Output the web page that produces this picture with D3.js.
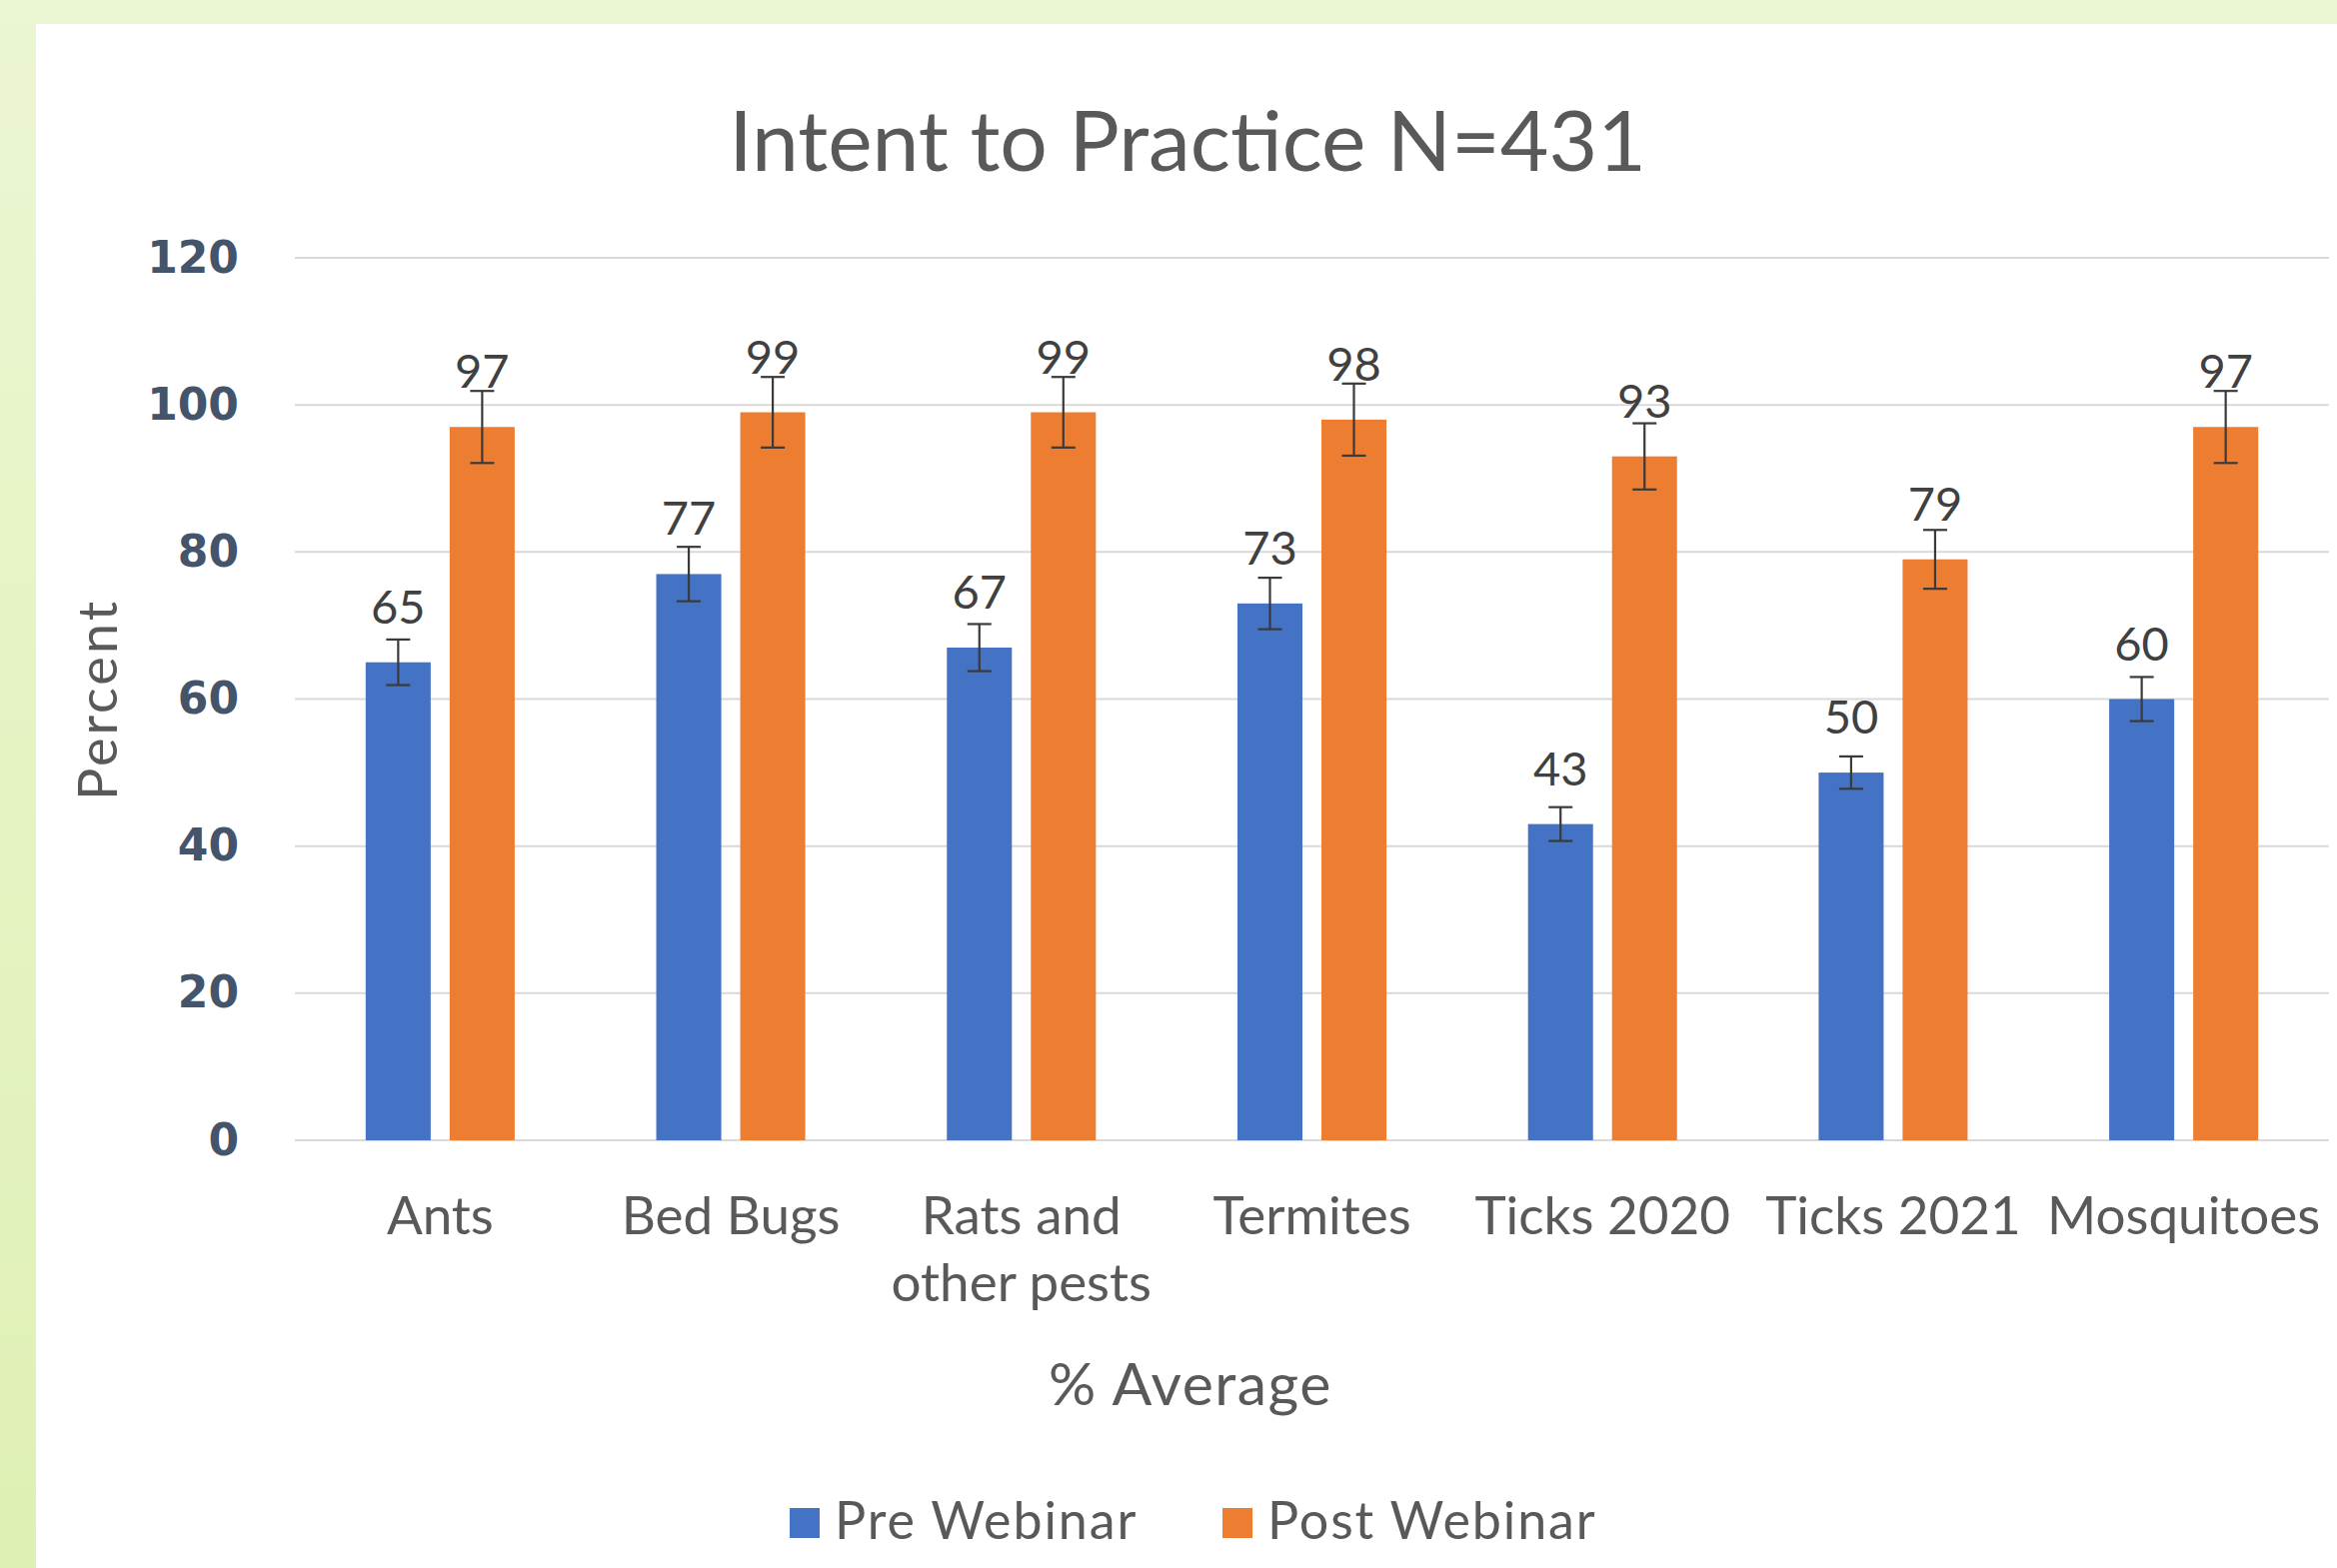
<!DOCTYPE html>
<html>
<head>
<meta charset="utf-8">
<script src="https://cdn.jsdelivr.net/npm/d3@7"></script>
<style>
  html, body { margin: 0; padding: 0; background: #fff; }
  svg { display: block; }
</style>
</head>
<body>
<svg id="chart"></svg>
<script>
const categories = ['Ants', 'Bed Bugs', 'Rats and other pests', 'Termites', 'Ticks 2020', 'Ticks 2021', 'Mosquitoes'];
const seriesNames = ['Pre Webinar', 'Post Webinar'];
const preWebinar = [65, 77, 67, 73, 43, 50, 60];
const postWebinar = [97, 99, 99, 98, 93, 79, 97];
const preError = [3.1, 3.7, 3.2, 3.5, 2.3, 2.2, 3.0];
const postError = [4.9, 4.8, 4.8, 4.9, 4.5, 4.0, 4.9];
const yTicks = [0, 20, 40, 60, 80, 100, 120];

const W = 2338, H = 1569;
const colors = { 'Pre Webinar': '#4472C4', 'Post Webinar': '#ED7D31' };
const textFont = 'Lato, "Open Sans", sans-serif';
const textColor = '#595959';

const svg = d3.select('#chart').attr('width', W).attr('height', H);

// green frame behind the white chart panel
const defs = svg.append('defs');
const grad = defs.append('linearGradient').attr('id', 'frame').attr('x1', 0).attr('y1', 0).attr('x2', 0).attr('y2', 1);
grad.append('stop').attr('offset', '0%').attr('stop-color', '#ebf6d2');
grad.append('stop').attr('offset', '100%').attr('stop-color', '#dff0b4');
svg.append('rect').attr('width', W).attr('height', H).attr('fill', 'url(#frame)');
svg.append('rect').attr('x', 36).attr('y', 24).attr('width', W - 36).attr('height', H - 24).attr('fill', '#fff');

const plot = { left: 295, right: 2330, top: 258, bottom: 1141 };

const x0 = d3.scaleBand().domain(categories).range([plot.left, plot.right]).padding(0);
const x1 = d3.scaleBand().domain(seriesNames).range([0, x0.bandwidth()]).paddingInner(0.226).paddingOuter(0.843);
const y = d3.scaleLinear().domain([0, 120]).range([plot.bottom, plot.top]);

// gridlines
svg.append('g').selectAll('line')
  .data(yTicks)
  .enter()
  .append('line')
  .attr('x1', plot.left)
  .attr('x2', plot.right)
  .attr('y1', d => y(d))
  .attr('y2', d => y(d))
  .attr('stroke', '#d9d9d9')
  .attr('stroke-width', 2);

// y axis labels
const yAxis = svg.append('g')
  .attr('transform', `translate(${plot.left},0)`)
  .call(d3.axisLeft(y).tickValues(yTicks).tickSize(0).tickPadding(56));
yAxis.select('.domain').remove();
yAxis.selectAll('text')
  .style('font-family', '"DejaVu Sans", Verdana, sans-serif')
  .style('font-weight', 'bold')
  .style('font-size', '44px')
  .attr('fill', '#44546A');

// bars
const rows = categories.map((c, i) => ({
  category: c,
  values: [
    { series: 'Pre Webinar', value: preWebinar[i], err: preError[i] },
    { series: 'Post Webinar', value: postWebinar[i], err: postError[i] }
  ]
}));

const groups = svg.append('g').selectAll('g.group')
  .data(rows)
  .enter()
  .append('g')
  .attr('class', 'group')
  .attr('transform', d => `translate(${x0(d.category)},0)`);

groups.selectAll('rect')
  .data(d => d.values)
  .enter()
  .append('rect')
  .attr('x', d => x1(d.series))
  .attr('y', d => y(d.value))
  .attr('width', x1.bandwidth())
  .attr('height', d => y(0) - y(d.value))
  .attr('fill', d => colors[d.series]);

// error bars
const capHalf = 12;
const errG = groups.selectAll('g.err')
  .data(d => d.values)
  .enter()
  .append('g')
  .attr('class', 'err')
  .attr('stroke', '#3a3a3a')
  .attr('stroke-width', 2.2);
errG.append('line')
  .attr('x1', d => x1(d.series) + x1.bandwidth() / 2)
  .attr('x2', d => x1(d.series) + x1.bandwidth() / 2)
  .attr('y1', d => y(d.value + d.err))
  .attr('y2', d => y(d.value - d.err));
errG.selectAll('line.cap')
  .data(d => [d.value + d.err, d.value - d.err].map(v => ({ v, cx: x1(d.series) + x1.bandwidth() / 2 })))
  .enter()
  .append('line')
  .attr('class', 'cap')
  .attr('x1', d => d.cx - capHalf)
  .attr('x2', d => d.cx + capHalf)
  .attr('y1', d => y(d.v))
  .attr('y2', d => y(d.v));

// data labels
groups.selectAll('text.val')
  .data(d => d.values)
  .enter()
  .append('text')
  .attr('class', 'val')
  .attr('x', d => x1(d.series) + x1.bandwidth() / 2)
  .attr('y', d => y(d.value) - 39)
  .attr('text-anchor', 'middle')
  .style('font-family', textFont)
  .style('font-size', '47px')
  .attr('fill', '#404040')
  .text(d => d.value);

// category labels
const catLabels = svg.append('g').selectAll('text')
  .data(categories)
  .enter()
  .append('text')
  .attr('x', d => x0(d) + x0.bandwidth() / 2)
  .attr('y', 1235)
  .attr('text-anchor', 'middle')
  .style('font-family', textFont)
  .style('font-size', '53px')
  .attr('fill', textColor);
catLabels.each(function(d) {
  const t = d3.select(this);
  const lines = d === 'Rats and other pests' ? ['Rats and', 'other pests'] : [d];
  lines.forEach((ln, i) => {
    t.append('tspan')
      .attr('x', t.attr('x'))
      .attr('dy', i === 0 ? 0 : 67)
      .text(ln);
  });
});

// title
svg.append('text')
  .attr('x', 1188)
  .attr('y', 171)
  .attr('text-anchor', 'middle')
  .style('font-family', textFont)
  .style('font-size', '84px')
  .attr('fill', textColor)
  .text('Intent to Practice N=431');

// axis titles
svg.append('text')
  .attr('transform', 'translate(117,700) rotate(-90)')
  .attr('text-anchor', 'middle')
  .style('font-family', textFont)
  .style('font-size', '54px')
  .style('letter-spacing', '3px')
  .attr('fill', textColor)
  .text('Percent');

svg.append('text')
  .attr('x', 1191)
  .attr('y', 1406)
  .attr('text-anchor', 'middle')
  .style('font-family', textFont)
  .style('font-size', '59px')
  .style('letter-spacing', '1.5px')
  .attr('fill', textColor)
  .text('% Average');

// legend
const legendX = [790, 1223];
const legend = svg.append('g').selectAll('g')
  .data(seriesNames)
  .enter()
  .append('g')
  .attr('transform', (d, i) => `translate(${legendX[i]},1509)`);
legend.append('rect')
  .attr('width', 30)
  .attr('height', 30)
  .attr('fill', d => colors[d]);
legend.append('text')
  .attr('x', 45)
  .attr('y', 31)
  .style('font-family', textFont)
  .style('font-size', '52px')
  .style('letter-spacing', '1.9px')
  .attr('fill', textColor)
  .text(d => d);
</script>
</body>
</html>
